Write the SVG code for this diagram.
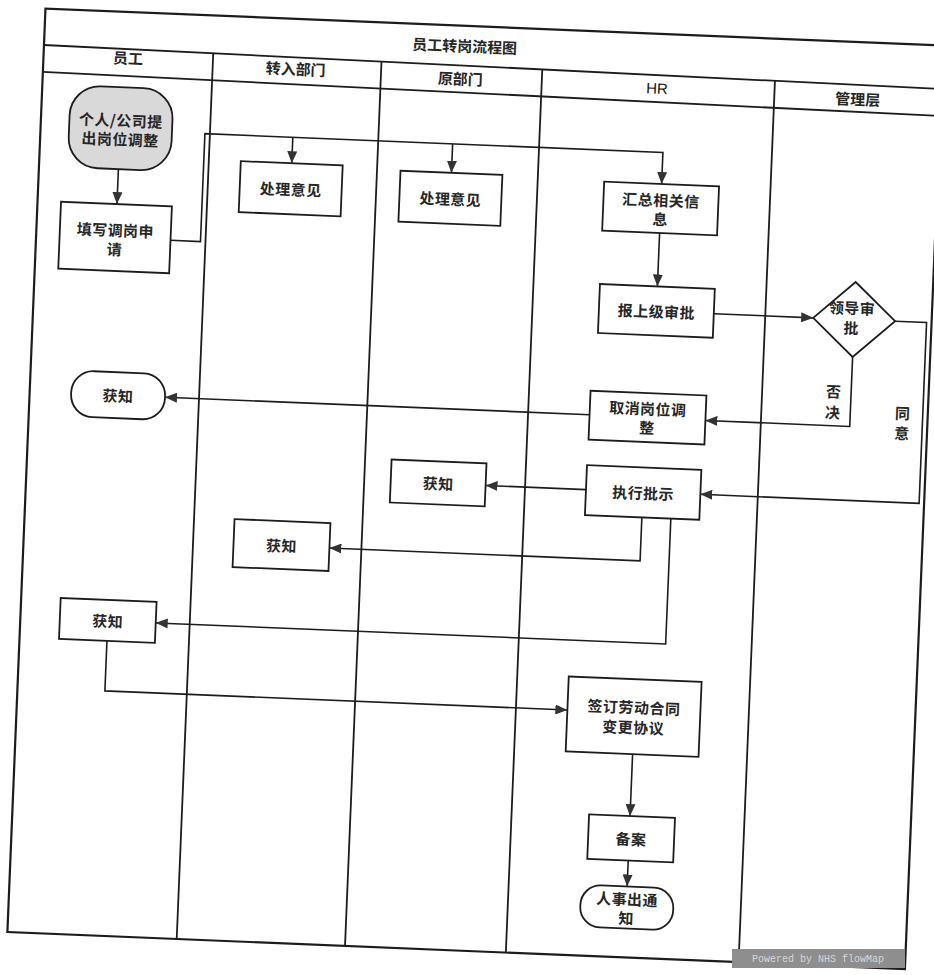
<svg xmlns="http://www.w3.org/2000/svg" width="934" height="975" viewBox="0 0 934 975">
<style>
.ln{fill:none;stroke:#1c1c1c;stroke-width:1.8}
.fr{fill:none;stroke:#1c1c1c;stroke-width:2.2}
.bx{fill:#fff;stroke:#1c1c1c;stroke-width:1.8}
.st{fill:#d9d9d9;stroke:#1c1c1c;stroke-width:1.8}
.cn{fill:none;stroke:#1c1c1c;stroke-width:1.6}
.t{font-family:"Noto Sans CJK SC","Noto Sans",sans-serif;font-size:15px;font-weight:bold;fill:#262626;text-anchor:middle;dominant-baseline:central;letter-spacing:0.5px}
.h{font-family:"Noto Sans CJK SC","Noto Sans",sans-serif;font-size:15px;font-weight:bold;fill:#262626;text-anchor:middle;dominant-baseline:central}
.hr{font-family:"Liberation Sans",Arial,sans-serif;font-size:15px;fill:#111;text-anchor:middle;dominant-baseline:central}
</style>
<defs>
<marker id="ah" viewBox="0 0 12 10" refX="12" refY="5" markerWidth="12" markerHeight="10" markerUnits="userSpaceOnUse" orient="auto">
<path d="M0,0 L12,5 L0,10 Z" fill="#333"/>
</marker>
</defs>
<rect width="934" height="975" fill="#fff"/>
<g transform="matrix(0.9989 0.0412 -0.0412 0.9989 21.06 -18.0)">
<g id="frame">
<rect class="fr" x="25.5" y="25.5" width="898.5" height="924.5"/>
<line class="ln" x1="25.5" y1="62" x2="924" y2="69"/>
<line class="ln" x1="25.5" y1="89" x2="924" y2="96"/>
<line class="ln" x1="195" y1="63.3" x2="195" y2="950"/>
<line class="ln" x1="363.5" y1="64.6" x2="363.5" y2="950"/>
<line class="ln" x1="524.5" y1="65.9" x2="524.5" y2="950"/>
<line class="ln" x1="757.5" y1="67.7" x2="757.5" y2="950"/>
<text class="h" x="446" y="45">员工转岗流程图</text>
<text class="h" x="110" y="71">员工</text>
<text class="h" x="278" y="75">转入部门</text>
<text class="h" x="443" y="78">原部门</text>
<text class="hr" x="640" y="80">HR</text>
<text class="h" x="841" y="82">管理层</text>
</g>
<g id="connectors">
<path class="cn" d="M105,183 V218" marker-end="url(#ah)"/>
<path class="cn" d="M160,252 H190 V144 H648.5 V175.5" marker-end="url(#ah)"/>
<path class="cn" d="M278,144 V170" marker-end="url(#ah)"/>
<path class="cn" d="M438,144 V173" marker-end="url(#ah)"/>
<path class="cn" d="M648.5,224.5 V278" marker-end="url(#ah)"/>
<path class="cn" d="M706,303 H805.5" marker-end="url(#ah)"/>
<path class="cn" d="M846.5,340.5 V410 H702" marker-end="url(#ah)"/>
<path class="cn" d="M887.5,303 H919 V484 H700" marker-end="url(#ah)"/>
<path class="cn" d="M586,409 H161" marker-end="url(#ah)"/>
<path class="cn" d="M585.5,484 H485" marker-end="url(#ah)"/>
<path class="cn" d="M642.5,509.5 V553 H331.5" marker-end="url(#ah)"/>
<path class="cn" d="M671.5,509.5 V635 H161" marker-end="url(#ah)"/>
<path class="cn" d="M113,655 V705 H576" marker-end="url(#ah)"/>
<path class="cn" d="M643,746.5 V808.5" marker-end="url(#ah)"/>
<path class="cn" d="M643,853 V879" marker-end="url(#ah)"/>
<text class="t" x="829" y="375">否</text>
<text class="t" x="829" y="396">决</text>
<text class="t" x="899" y="394">同</text>
<text class="t" x="899" y="414">意</text>
</g>
<g id="n-start">
<rect class="st" x="54" y="101" width="103" height="82" rx="30"/>
<text class="t" x="105.5" y="133.5">个人/公司提</text>
<text class="t" x="105.5" y="152.5">出岗位调整</text>
</g>
<g id="n-apply">
<rect class="bx" x="49" y="218" width="111" height="67"/>
<text class="t" x="104.5" y="243.5">填写调岗申</text>
<text class="t" x="104.5" y="262.5">请</text>
</g>
<g id="n-in-opinion">
<rect class="bx" x="227" y="170" width="102" height="51"/>
<text class="t" x="278" y="195.5">处理意见</text>
</g>
<g id="n-orig-opinion">
<rect class="bx" x="387" y="173" width="102" height="51"/>
<text class="t" x="438" y="198.5">处理意见</text>
</g>
<g id="n-collect">
<rect class="bx" x="591" y="175.5" width="115" height="49"/>
<text class="t" x="648.5" y="191">汇总相关信</text>
<text class="t" x="648.5" y="210">息</text>
</g>
<g id="n-report">
<rect class="bx" x="591" y="278" width="115" height="49"/>
<text class="t" x="648.5" y="302.5">报上级审批</text>
</g>
<g id="n-approve">
<polygon class="bx" points="805.5,303 846.5,265.5 887.5,303 846.5,340.5"/>
<text class="t" x="844" y="291">领导审</text>
<text class="t" x="844" y="311">批</text>
</g>
<g id="n-cancel">
<rect class="bx" x="586" y="385" width="116" height="49"/>
<text class="t" x="644" y="400">取消岗位调</text>
<text class="t" x="644" y="419">整</text>
</g>
<g id="n-know-emp1">
<rect class="bx" x="67" y="386" width="94" height="46" rx="22"/>
<text class="t" x="114" y="409">获知</text>
</g>
<g id="n-execute">
<rect class="bx" x="585.5" y="459.5" width="114.5" height="50"/>
<text class="t" x="642.75" y="484.5">执行批示</text>
</g>
<g id="n-know-orig">
<rect class="bx" x="390" y="462" width="95" height="43"/>
<text class="t" x="437.5" y="483.5">获知</text>
</g>
<g id="n-know-in">
<rect class="bx" x="235.5" y="528" width="96" height="48"/>
<text class="t" x="283.5" y="552">获知</text>
</g>
<g id="n-know-emp2">
<rect class="bx" x="65" y="614" width="96" height="41"/>
<text class="t" x="113" y="634.5">获知</text>
</g>
<g id="n-sign">
<rect class="bx" x="576" y="671.5" width="133" height="75"/>
<text class="t" x="642.5" y="699">签订劳动合同</text>
<text class="t" x="642.5" y="719">变更协议</text>
</g>
<g id="n-file">
<rect class="bx" x="602" y="808.5" width="86" height="44.5"/>
<text class="t" x="645" y="830.8">备案</text>
</g>
<g id="n-notice">
<rect class="bx" x="597" y="879" width="93" height="42" rx="20"/>
<text class="t" x="643.5" y="891">人事出通</text>
<text class="t" x="643.5" y="910">知</text>
</g>
</g>
<g id="watermark">
<rect x="732" y="949" width="173" height="19" fill="#8e8e8e"/>
<text x="818" y="959" font-family="Liberation Mono,monospace" font-size="10" fill="#d6d6d6" text-anchor="middle" dominant-baseline="central">Powered by NHS flowMap</text>
</g>
</svg>
